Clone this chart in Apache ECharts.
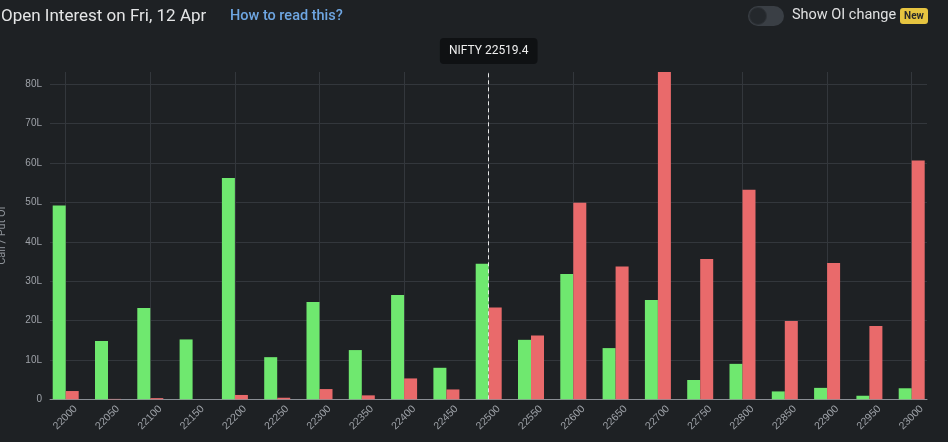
<!DOCTYPE html>
<html>
<head>
<meta charset="utf-8">
<script src="https://cdn.jsdelivr.net/npm/echarts@6/dist/echarts.min.js"></script>
<style>
html,body{margin:0;padding:0;background:#1e2124;}
#chart{width:948px;height:442px;}
</style>
</head>
<body>
<div id="chart"></div>
<script>
const categories = ['22000','22050','22100','22150','22200','22250','22300','22350','22400','22450','22500','22550','22600','22650','22700','22750','22800','22850','22900','22950','23000'];
const callOI = [49.2, 14.8, 23.2, 15.2, 56.2, 10.7, 24.7, 12.5, 26.5, 8.0, 34.4, 15.1, 31.8, 13.0, 25.2, 4.9, 9.0, 2.0, 2.9, 0.9, 2.8];
const putOI  = [2.1, 0.1, 0.3, 0.0, 1.1, 0.4, 2.6, 1.0, 5.3, 2.5, 23.3, 16.2, 49.9, 33.7, 83.1, 35.6, 53.2, 19.9, 34.6, 18.6, 60.6];
const yTickValues = [0, 10, 20, 30, 40, 50, 60, 70, 80];
const spotStrike = '22500';
const spotLabel = 'NIFTY 22519.4';

const chart = echarts.init(document.getElementById('chart'), null, {renderer: 'canvas'});
const gridLine = '#33373c';
const option = {
  backgroundColor: '#1e2124',
  animation: false,
  textStyle: {fontFamily: 'Roboto, "Liberation Sans", sans-serif'},
  title: [
    {text: 'Open Interest on Fri, 12 Apr', left: 1, top: 8, padding: 0,
     textStyle: {color: '#e4e5e6', fontSize: 17, fontWeight: 'normal', fontFamily: 'Roboto, sans-serif'}},
    {text: 'How to read this?', left: 230, top: 9, padding: 0,
     textStyle: {color: '#6ea6e2', fontSize: 14.5, fontWeight: 500, fontFamily: 'Roboto, sans-serif'}},
    {text: 'Show OI change', left: 792, top: 8, padding: 0,
     textStyle: {color: '#e0e1e2', fontSize: 14.5, fontWeight: 'normal', fontFamily: 'Roboto, sans-serif'}}
  ],
  graphic: [
    {type: 'rect', shape: {x: 748, y: 6, width: 36, height: 20, r: 10}, style: {fill: '#3a3f45'}},
    {type: 'circle', shape: {cx: 758, cy: 16, r: 8.5}, style: {fill: '#24282c', stroke: '#2f3338', lineWidth: 1}},
    {type: 'rect', shape: {x: 900, y: 8, width: 28, height: 16, r: 3}, style: {fill: '#e6c440'}},
    {type: 'text', style: {x: 914, y: 16, text: 'New', fill: '#2a2a2a', font: 'bold 10px Roboto, sans-serif', textAlign: 'center', textVerticalAlign: 'middle'}}
  ],
  grid: [
    {left: 50, right: 21, top: 84.3, bottom: 42.7, outerBoundsMode: 'none', containLabel: false},
    {left: 44.55, right: 15.15, top: 72, bottom: 42.7, outerBoundsMode: 'none', containLabel: false},
    {left: 54.5, right: 5.2, top: 72, bottom: 42.7, outerBoundsMode: 'none', containLabel: false}
  ],
  xAxis: [
    {type: 'category', gridIndex: 0, data: categories,
     axisLine: {show: true, lineStyle: {color: '#8a8e94', width: 1}},
     axisTick: {show: false}, axisLabel: {show: false}, splitLine: {show: false}},
    {type: 'category', gridIndex: 1, data: categories,
     axisLine: {show: false}, axisTick: {show: false}, axisLabel: {show: false},
     splitLine: {show: true, interval: 1, alignWithLabel: true, lineStyle: {color: gridLine, width: 1}}},
    {type: 'category', gridIndex: 2, data: categories,
     axisLine: {show: false}, axisTick: {show: false},
     axisLabel: {show: true, interval: 0, rotate: 45, margin: 8, color: '#9ea2a8', fontSize: 10.5,
                 fontFamily: '"Liberation Sans", sans-serif'},
     splitLine: {show: false}}
  ],
  yAxis: [
    {type: 'value', gridIndex: 0, min: yTickValues[0], max: yTickValues[yTickValues.length - 1], interval: 10,
     axisLine: {show: false}, axisTick: {show: false},
     axisLabel: {color: '#9ea2a8', fontSize: 10, margin: 8, fontFamily: '"Liberation Sans", sans-serif',
                 formatter: v => v === 0 ? '0' : v + 'L'},
     splitLine: {show: true, lineStyle: {color: gridLine, width: 1}}},
    {type: 'value', gridIndex: 1, min: 0, max: 'dataMax',
     name: 'Call / Put OI', nameLocation: 'middle', nameGap: 37, nameRotate: 90,
     nameTextStyle: {color: '#8d9298', fontSize: 11},
     axisLine: {show: false}, axisTick: {show: false}, axisLabel: {show: false}, splitLine: {show: false}},
    {type: 'value', gridIndex: 2, min: 0, max: 1, show: false}
  ],
  series: [
    {name: 'Call OI', type: 'bar', xAxisIndex: 1, yAxisIndex: 1, data: callOI,
     barWidth: 13, barGap: '0%', itemStyle: {color: '#6fe86f'}},
    {name: 'Put OI', type: 'bar', xAxisIndex: 1, yAxisIndex: 1, data: putOI,
     barWidth: 13, barGap: '0%', itemStyle: {color: '#e96a6b'}},
    {name: 'Spot', type: 'line', xAxisIndex: 1, yAxisIndex: 1, data: [], silent: true,
     markLine: {
       symbol: 'none', silent: true, animation: false,
       lineStyle: {color: '#e8e8e8', type: [4, 3], width: 1},
       label: {show: true, position: 'end', formatter: spotLabel, distance: 8,
               color: '#eeeeee', fontSize: 12, backgroundColor: '#0f1113',
               padding: [7, 9, 7, 9], borderRadius: 4, fontFamily: 'Roboto, sans-serif'},
       data: [{xAxis: spotStrike}]
     }}
  ]
};
chart.setOption(option);
</script>
</body>
</html>
